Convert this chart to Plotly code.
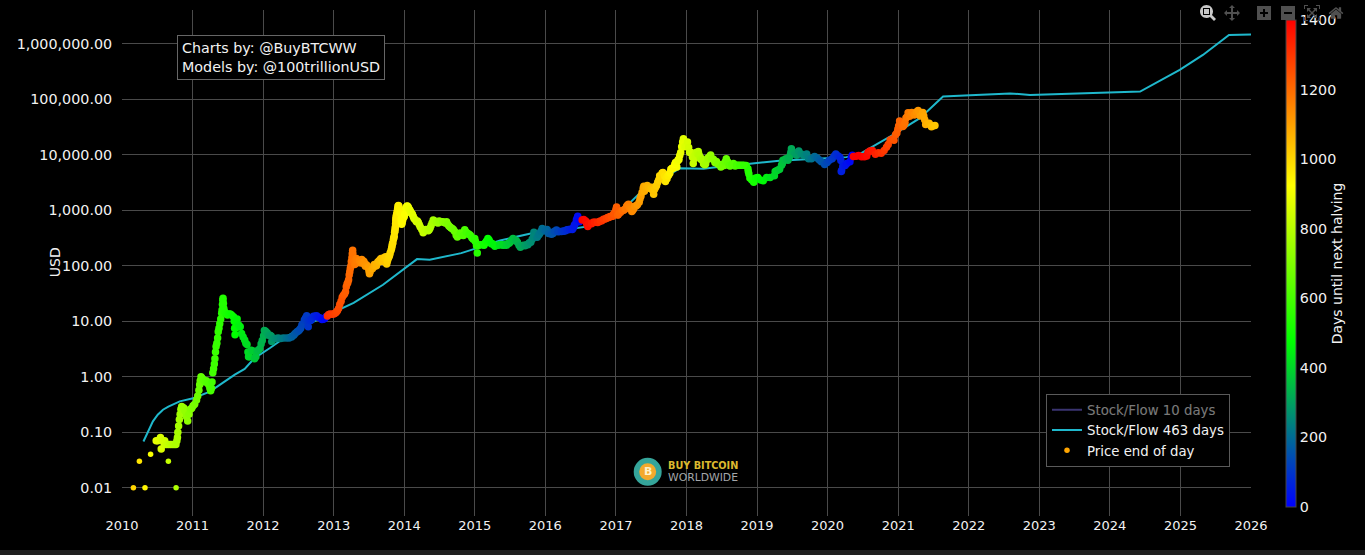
import plotly.graph_objects as go

# Price end of day
price_dates = [
"2010-03-01","2010-04-01","2010-04-30","2010-05-29","2010-06-27","2010-07-05","2010-07-19","2010-07-23","2010-07-30","2010-08-10",
"2010-08-08","2010-08-18","2010-08-28","2010-08-29","2010-09-07","2010-09-17","2010-09-27","2010-10-07","2010-10-08","2010-10-12",
"2010-10-15","2010-10-17","2010-10-21","2010-10-25","2010-10-29","2010-11-02","2010-11-06","2010-11-12","2010-11-18","2010-11-24",
"2010-12-01","2010-12-07","2010-12-14","2010-12-21","2010-12-28","2011-01-04","2011-01-12","2011-01-22","2011-01-28","2011-02-03",
"2011-02-07","2011-02-10","2011-02-14","2011-02-18","2011-02-24","2011-03-02","2011-03-08","2011-03-14","2011-03-20","2011-03-26",
"2011-04-01","2011-04-05","2011-04-09","2011-04-12","2011-04-16","2011-04-20","2011-04-24","2011-04-27","2011-04-30","2011-05-03",
"2011-05-07","2011-05-11","2011-05-14","2011-05-18","2011-05-22","2011-05-27","2011-06-01","2011-06-03","2011-06-05","2011-06-07",
"2011-06-08","2011-06-10","2011-06-12","2011-06-15","2011-06-20","2011-06-26","2011-07-01","2011-07-08","2011-07-15","2011-07-22",
"2011-08-01","2011-08-05","2011-08-07","2011-08-09","2011-08-12","2011-08-14","2011-08-20","2011-08-28","2011-09-05","2011-09-12",
"2011-09-20","2011-09-28","2011-10-04","2011-10-10","2011-10-15","2011-10-18","2011-10-22","2011-11-01","2011-11-10","2011-11-18",
"2011-11-25","2011-12-01","2011-12-08","2011-12-15","2011-12-22","2011-12-28","2012-01-04","2012-01-08","2012-01-14","2012-01-22",
"2012-01-30","2012-02-06","2012-02-12","2012-02-15","2012-02-24","2012-03-04","2012-03-12","2012-03-20","2012-04-01","2012-04-15",
"2012-05-01","2012-05-15","2012-05-28","2012-06-08","2012-06-15","2012-06-25","2012-07-02","2012-07-08","2012-07-14","2012-07-20",
"2012-07-26","2012-08-02","2012-08-08","2012-08-14","2012-08-18","2012-08-22","2012-08-26","2012-09-03","2012-09-10","2012-09-18",
"2012-09-26","2012-10-04","2012-10-12","2012-10-20","2012-11-01","2012-11-08","2012-11-15","2012-11-22","2012-11-27",
"2012-11-29","2012-12-06","2012-12-14","2012-12-24","2013-01-01","2013-01-08","2013-01-14","2013-01-20","2013-01-26","2013-02-01",
"2013-02-08","2013-02-14","2013-02-20","2013-02-26","2013-03-03","2013-03-07","2013-03-11","2013-03-15","2013-03-19","2013-03-22",
"2013-03-25","2013-03-28","2013-03-31","2013-04-02","2013-04-05","2013-04-07","2013-04-09","2013-04-10","2013-04-12","2013-04-16",
"2013-04-22","2013-04-28","2013-05-04","2013-05-10","2013-05-18","2013-05-26","2013-06-03","2013-06-10","2013-06-17","2013-06-24",
"2013-07-01","2013-07-05","2013-07-10","2013-07-17","2013-07-24","2013-07-30","2013-08-06","2013-08-14","2013-08-22","2013-08-30",
"2013-09-07","2013-09-14","2013-09-22","2013-09-30","2013-10-02","2013-10-08","2013-10-14","2013-10-20","2013-10-25","2013-10-30",
"2013-11-03","2013-11-06","2013-11-10","2013-11-12","2013-11-14","2013-11-16","2013-11-18","2013-11-20","2013-11-23","2013-11-27",
"2013-11-30","2013-12-04","2013-12-07","2013-12-10","2013-12-14","2013-12-18","2013-12-21","2013-12-24","2013-12-28","2014-01-01",
"2014-01-05","2014-01-08","2014-01-12","2014-01-16","2014-01-22","2014-01-30","2014-02-05","2014-02-12","2014-02-20","2014-03-05",
"2014-03-15","2014-03-25","2014-04-09","2014-04-18","2014-04-28","2014-05-10","2014-05-20","2014-05-31","2014-06-12","2014-06-25",
"2014-07-10","2014-07-25","2014-08-08","2014-08-20","2014-09-01","2014-09-12","2014-09-27","2014-10-10","2014-10-25","2014-11-10",
"2014-11-25","2014-12-10","2014-12-24","2015-01-05","2015-01-14","2015-01-18","2015-01-28","2015-02-10","2015-02-25","2015-03-10",
"2015-03-22","2015-04-03","2015-04-15","2015-05-01","2015-05-20","2015-06-06","2015-06-20","2015-07-05","2015-07-18","2015-07-28",
"2015-08-10","2015-08-25","2015-09-10","2015-09-25","2015-10-10","2015-10-25","2015-11-03","2015-11-08","2015-11-15","2015-11-25",
"2015-12-05","2015-12-16","2015-12-28","2016-01-10","2016-01-25","2016-02-10","2016-02-28","2016-03-15","2016-04-01","2016-04-15",
"2016-05-01","2016-05-14","2016-05-25","2016-06-03","2016-06-10","2016-06-14","2016-06-17","2016-06-21","2016-06-25","2016-07-02",
"2016-07-10","2016-07-18","2016-07-28","2016-08-03","2016-08-08","2016-08-20","2016-09-05","2016-09-20","2016-10-05","2016-10-20",
"2016-11-05","2016-11-18","2016-12-01","2016-12-15","2016-12-25","2017-01-01","2017-01-04","2017-01-08","2017-01-12","2017-01-25",
"2017-02-10","2017-02-25","2017-03-07","2017-03-15","2017-03-24","2017-04-02","2017-04-15","2017-05-01","2017-05-10","2017-05-22",
"2017-06-01","2017-06-12","2017-06-25","2017-07-05","2017-07-15","2017-07-25","2017-08-05","2017-08-15","2017-08-28","2017-09-05",
"2017-09-14","2017-09-22","2017-10-02","2017-10-12","2017-10-25","2017-11-05","2017-11-12","2017-11-20","2017-11-27","2017-12-02",
"2017-12-07","2017-12-12","2017-12-16","2017-12-22","2017-12-28","2018-01-06","2018-01-12","2018-01-17","2018-01-25","2018-02-01",
"2018-02-05","2018-02-10","2018-02-20","2018-03-03","2018-03-12","2018-03-20","2018-03-30","2018-04-06","2018-04-15","2018-05-01",
"2018-05-06","2018-05-20","2018-06-05","2018-06-20","2018-07-01","2018-07-15","2018-07-26","2018-08-05","2018-08-15","2018-09-01",
"2018-09-10","2018-09-25","2018-10-15","2018-11-06","2018-11-15","2018-11-20","2018-11-25","2018-12-05","2018-12-15","2018-12-25",
"2019-01-05","2019-01-20","2019-02-02","2019-02-20","2019-03-10","2019-04-01","2019-04-05","2019-04-20","2019-05-08","2019-05-15",
"2019-05-30","2019-06-10","2019-06-20","2019-06-25","2019-06-28","2019-07-05","2019-07-15","2019-07-25","2019-08-05","2019-08-18",
"2019-09-01","2019-09-15","2019-09-25","2019-10-10","2019-10-26","2019-11-08","2019-11-20","2019-11-30","2019-12-17","2019-12-30",
"2020-01-10","2020-01-25","2020-02-05","2020-02-13","2020-02-25","2020-03-05","2020-03-10","2020-03-12","2020-03-14","2020-03-20",
"2020-04-01","2020-04-10","2020-04-26","2020-05-03","2020-05-08",
"2020-05-14","2020-05-28","2020-06-10","2020-06-25","2020-07-10","2020-07-22","2020-07-28","2020-08-07","2020-08-20","2020-09-05",
"2020-09-20","2020-10-05","2020-10-20","2020-11-01","2020-11-10","2020-11-20","2020-12-01","2020-12-10","2020-12-18","2020-12-25",
"2020-12-30","2021-01-03","2021-01-08","2021-01-15","2021-01-25","2021-01-30","2021-02-05","2021-02-10","2021-02-15","2021-02-21",
"2021-03-01","2021-03-12","2021-03-25","2021-04-05","2021-04-14","2021-04-25","2021-05-08","2021-05-13","2021-05-18","2021-05-23",
"2021-06-01","2021-06-10","2021-06-22","2021-07-01","2021-07-10",
]
price_values = [
.01,.03,.01,.04,.07,.07,.08,.05,.07,.07,
.06,.06,.06,.03,.06,.06,.06,.06,.01,.07,
.08,.10,.13,.17,.21,.26,.29,.28,.27,.24,
.19,.16,.21,.26,.27,.30,.32,.38,.45,.57,
.72,.85,1.0,.95,.90,.85,.80,.85,.78,.72,
.62,.56,.62,.80,1.18,1.4,1.7,2.1,2.8,3.5,
4.0,5.0,6.5,7.5,9,11,14,16,20,24,
26,21,17,15,14,13.5,13,13.5,13.5,13,
12,10,7.5,5.7,7.5,9.5,11,8.6,8,6,
5.2,4.6,4.0,3.8,2.8,2.3,2.3,3,2.9,2.1,
2.3,2.9,3,3.2,3.9,4.5,5.5,6.8,6.6,6.2,
5.6,5.6,5.4,4.3,4.9,4.9,4.9,5.0,4.9,5.0,
5.0,5.0,5.2,5.6,6.0,6.5,6.7,7.0,7.5,8.6,
9.0,10.5,11.5,12.6,10,8,10.5,10.3,11,12.3,
12.3,12.6,11.8,11.6,10.8,10.9,11.2,12,12.3,
12.5,13.3,13.5,13.4,13.5,14,14.5,15.5,17,20,
23,27,29.5,31,34,42,47,50,56,68,
78,90,100,120,140,165,190,165,130,118,
125,135,115,118,122,130,122,105,105,100,
88,72,85,93,95,105,105,110,120,130,
125,135,130,130,108,130,145,170,190,230,
260,300,340,400,430,500,650,750,850,1000,
1200,1180,850,950,880,560,620,670,740,770,
950,1050,1150,1200,1130,1000,900,850,720,620,
600,500,395,440,440,445,530,670,620,590,
620,610,620,520,480,450,355,370,360,445,
380,350,300,270,170,230,240,240,260,310,
265,250,225,235,240,240,250,270,310,290,
265,215,235,240,260,300,400,370,330,350,
390,470,430,450,400,380,440,415,420,430,
450,455,480,560,670,720,780,700,620,650,
670,680,640,560,510,570,610,610,620,650,
700,740,770,780,900,1000,1150,900,830,920,
1000,1180,1280,1200,950,1050,1200,1400,1800,2500,
2400,2800,2500,2600,1950,2600,3200,4200,4700,4500,
3300,3700,4400,5500,5700,7300,6000,8200,9700,11000,
14000,17000,19500,14000,14500,17000,13500,11000,11000,9000,
7000,8500,11000,11500,9000,8500,6900,6600,8000,9300,
9900,8300,7600,6700,6300,6400,8500,7000,6300,7000,
6300,6500,6500,6400,5600,4500,3800,3500,3200,3800,
3900,3500,3400,3900,3900,4200,5000,5300,6500,8000,
8500,8000,9500,11000,12800,11200,10500,9800,11700,10300,
9700,10300,8500,8500,9300,8800,8100,7500,6700,7300,
8000,8500,9500,10300,9500,9000,7900,5000,5200,6200,
6400,7000,7500,9000,9800,
9300,9400,9700,9200,9200,9500,11000,11700,11900,10200,
10900,10700,11900,13700,15300,18400,19200,18300,23000,24700,
29000,33000,40500,36800,32500,34000,38000,46000,48000,57000,
49500,58000,52000,59000,63000,50000,58000,50000,43000,35000,
36500,37000,32000,33500,33800,
]
days_to_halving = [
1003,972,943,914,884,877,863,859,852,841,
843,833,823,822,813,803,793,783,782,778,
775,773,769,765,761,757,753,747,741,735,
728,722,715,708,701,694,686,676,670,664,
660,657,653,649,643,637,631,625,619,613,
607,603,599,596,592,588,584,581,578,575,
571,567,564,560,556,551,546,544,542,540,
539,537,535,532,527,521,516,509,502,495,
485,481,479,477,474,472,466,458,450,443,
435,427,421,415,410,407,403,393,384,376,
369,363,356,349,342,336,329,325,319,311,
303,296,290,287,278,269,261,253,241,227,
211,197,184,173,166,156,149,143,137,131,
125,118,112,106,102,98,94,86,79,71,
63,55,47,39,27,20,13,6,1,
1318,1311,1303,1293,1285,1278,1272,1266,1260,1254,
1247,1241,1235,1229,1224,1220,1216,1212,1208,1205,
1202,1199,1196,1194,1191,1189,1187,1186,1184,1180,
1174,1168,1162,1156,1148,1140,1132,1125,1118,1111,
1104,1100,1095,1088,1081,1075,1068,1060,1052,1044,
1036,1029,1021,1013,1011,1005,999,993,988,983,
979,976,972,970,968,966,964,962,959,955,
952,948,945,942,938,934,931,928,924,920,
916,913,909,905,899,891,885,878,870,857,
847,837,822,813,803,791,781,770,758,745,
730,715,701,689,677,666,651,638,623,607,
592,577,563,551,542,538,528,515,500,487,
475,463,451,435,416,399,385,370,357,347,
334,319,303,288,273,258,249,244,237,227,
217,206,194,181,166,150,132,116,99,85,
69,56,45,36,29,25,22,18,14,7,
1401,1393,1383,1377,1372,1360,1344,1329,1314,1299,
1283,1270,1257,1243,1233,1226,1223,1219,1215,1202,
1186,1171,1161,1153,1144,1135,1122,1106,1097,1085,
1075,1064,1051,1041,1031,1021,1010,1000,987,979,
970,962,952,942,929,918,911,903,896,891,
886,881,877,871,865,855,849,844,836,830,
826,821,811,800,791,783,773,766,757,741,
736,722,706,691,681,666,655,645,635,618,
609,594,574,552,543,538,533,523,513,503,
491,477,464,446,428,406,402,387,369,362,
347,336,326,321,318,311,301,291,280,267,
253,239,229,214,198,185,173,163,146,133,
122,107,96,88,76,67,62,60,58,52,
40,31,15,8,3,
1452,1438,1425,1410,1395,1383,1377,1367,1354,1338,
1323,1308,1293,1281,1272,1262,1251,1242,1234,1227,
1222,1218,1213,1206,1196,1191,1185,1180,1175,1169,
1161,1150,1137,1126,1117,1106,1093,1088,1083,1078,
1069,1060,1048,1040,1030,
]

# Further readings where the price band is thick or steep
extra_dates = [
"2013-04-19","2013-04-25","2013-05-01","2013-05-14","2013-05-22","2013-06-01","2013-06-07","2013-06-14","2013-06-28","2013-07-03",
"2013-07-08","2013-07-20","2013-08-01","2013-08-10","2013-08-18","2013-08-26","2013-09-03","2013-09-10","2013-09-18","2013-09-26",
"2013-10-05","2013-10-11","2013-10-17","2013-10-28","2013-11-01","2013-11-08","2013-11-15","2013-11-17","2013-11-19","2013-11-21",
"2013-11-25","2013-11-28","2013-12-02","2013-12-05","2013-12-08","2013-12-12","2013-12-16","2013-12-17","2013-12-20",
"2014-01-03","2014-01-10","2014-01-18","2014-01-26","2014-02-02","2014-02-08","2014-02-16","2014-02-25","2014-03-10","2014-03-20",
"2014-04-02","2014-04-14","2014-04-23","2014-05-05","2014-05-15","2014-05-25","2014-06-05","2014-06-18","2014-07-01","2014-07-18",
"2014-08-01","2014-08-14","2014-08-26","2014-09-06","2014-09-18","2014-10-03","2014-10-18","2014-11-03","2014-11-18","2014-12-03",
"2014-12-17","2015-01-01","2015-01-10",
"2015-02-18","2015-03-03","2015-03-16","2015-03-28","2015-04-09","2015-05-10","2015-05-28","2015-06-14","2015-06-28","2015-07-12",
"2015-08-03","2015-08-18","2015-09-02","2015-09-18","2015-10-03","2015-10-18","2015-11-01","2015-11-20","2015-11-30","2015-12-10","2015-12-22",
"2016-01-03","2016-01-18","2016-02-02","2016-02-18","2016-03-07","2016-03-25","2016-04-08","2016-04-22","2016-05-07","2016-05-20","2016-05-30",
"2016-08-14","2016-08-28","2016-09-12","2016-09-28","2016-10-12","2016-10-28","2016-11-12","2016-11-25","2016-12-08","2016-12-20",
"2017-01-02","2017-01-10","2017-01-18","2017-02-02","2017-02-18","2017-03-02","2017-03-11","2017-03-20","2017-03-28","2017-04-08",
"2017-04-22","2017-05-05","2017-05-16","2017-05-25","2017-05-28","2017-06-06","2017-06-18","2017-07-01","2017-07-10","2017-07-20",
"2017-07-30","2017-08-10","2017-08-20","2017-09-01","2017-09-10","2017-09-18","2017-09-28","2017-10-07","2017-10-18","2017-11-01",
"2017-11-08","2017-11-16","2017-11-23",
"2018-02-15","2018-02-26","2018-03-07","2018-03-16","2018-03-25","2018-04-10","2018-04-22","2018-05-13","2018-05-28","2018-06-12",
"2018-06-28","2018-07-08","2018-07-20","2018-08-01","2018-08-10","2018-08-24","2018-09-17","2018-10-05","2018-10-25","2018-11-17",
"2019-04-10","2019-04-28","2019-05-12","2019-05-22","2019-06-04","2019-06-15",
]
extra_values = [
105,110,125,125,112,115,118,98,95,80,
78,88,98,100,118,125,135,120,140,145,
120,140,155,210,250,320,470,570,700,800,
920,1080,1220,1000,900,920,700,620,580,
850,1100,1180,1060,950,880,780,680,640,550,
450,420,450,430,480,590,650,600,640,620,
590,560,500,470,420,330,390,350,400,370,
320,310,230,
235,280,290,250,240,240,235,235,255,290,
285,235,230,230,240,265,330,325,365,420,450,
430,380,370,420,410,415,425,445,450,450,530,
585,575,610,605,640,690,710,740,770,860,
1050,820,890,990,1060,1240,1150,1050,1000,1180,
1260,1600,2100,2700,2200,2650,2600,2450,2300,2400,
2800,3500,4100,4800,4100,3800,4200,4700,5700,6700,
7000,7700,8200,
10000,10500,10000,8300,8000,6900,8800,8500,7300,6800,
6000,6700,7400,7600,6400,6700,6500,6500,6500,5000,
5100,5500,7000,8000,8300,8800,
]
extra_days = [
1177,1171,1165,1152,1144,1134,1128,1121,1107,1102,
1097,1085,1073,1064,1056,1048,1040,1033,1025,1017,
1008,1002,996,985,981,974,967,965,963,961,
957,954,950,947,944,940,936,935,932,
918,911,903,895,888,882,874,865,852,842,
829,817,808,796,786,776,765,752,739,722,
708,695,683,672,660,645,630,614,599,584,
570,555,546,
507,494,481,469,457,426,408,391,377,363,
341,326,311,295,280,265,251,232,222,212,200,
188,173,158,142,124,106,92,78,63,50,40,
1366,1352,1337,1321,1307,1291,1276,1263,1250,1238,
1225,1217,1209,1194,1178,1166,1157,1148,1140,1129,
1115,1102,1091,1082,1079,1070,1058,1045,1036,1026,
1016,1005,995,983,974,966,956,947,936,922,
915,907,900,
816,805,796,787,778,762,750,729,714,699,
683,673,661,649,640,626,602,584,564,541,
397,379,365,355,342,331,
]
assert len(price_dates) == len(price_values) == len(days_to_halving), (len(price_dates), len(price_values), len(days_to_halving))
assert len(extra_dates) == len(extra_values) == len(extra_days), (len(extra_dates), len(extra_values), len(extra_days))

# Lone early readings, drawn as the small dots they are in the picture
lone_dates = ["2010-03-01", "2010-04-01", "2010-04-30", "2010-05-29", "2010-08-29", "2010-10-08"]

# Stock/Flow 463 days
sf463_dates = ["2010-04-22","2010-05-26","2010-06-10","2010-07-05","2010-08-01","2010-08-29","2010-10-27","2011-01-04","2011-04-01","2011-06-10","2011-08-08","2011-09-28",
"2011-11-18","2012-02-06","2012-05-01","2012-08-14","2012-11-25","2013-04-14","2013-09-13","2014-03-08","2014-05-13","2014-08-25",
"2014-10-23","2015-01-12","2015-05-12","2015-10-12","2015-12-20","2016-06-10","2016-08-04","2016-12-03","2017-02-25","2017-05-05",
"2017-11-28","2018-03-30","2018-07-26","2018-11-25","2019-04-26","2019-09-13","2020-04-08","2020-06-17","2020-08-25","2020-12-05",
"2021-04-23","2021-08-21","2022-01-08","2022-08-03","2022-11-14","2024-06-06","2024-12-28","2025-04-27","2025-09-09","2026-01-01"]
sf463_values = [.068,.127,.157,.207,.254,.29,.36,.41,.54,.79,1.09,1.38,
2.17,3.3,5.3,8.65,12.6,21.4,45.5,132,128,151,
169,208,286,378,415,477,510,830,1200,2040,
5750,5600,6300,6890,7800,8360,9080,10400,14100,22900,
45800,112000,119000,128000,120000,138000,339000,631000,1450000,1470000]

# Stock/Flow 10 days (hidden in the reference: legend entry only)
sf10_dates = ["2011-01-01","2013-01-01","2016-01-01","2020-01-01"]
sf10_values = [.4,15,400,9000]

y_tick_values = [.01,.1,1,10,100,1000,10000,100000,1000000]
colorbar_ticks = [0,200,400,600,800,1000,1200,1400]

FONT = "DejaVu Sans"
TXT = "#f2f2f2"
W, H = 1365, 550
L, R, T, B = 122, 114, 10, 33.5
PH = H - T - B
PW = W - L - R
px = lambda v: (v - L) / PW
py = lambda v: (H - B - v) / PH

all_dates = price_dates + extra_dates
all_values = price_values + extra_values
all_days = days_to_halving + extra_days
marker_sizes = [5.5 if d in lone_dates else 7.5 for d in all_dates]

fig = go.Figure()
fig.add_trace(go.Scatter(x=sf10_dates, y=sf10_values, mode="lines", name="Stock/Flow 10 days",
                         visible="legendonly", line=dict(color="#7468e0", width=2)))
fig.add_trace(go.Scatter(x=sf463_dates, y=sf463_values, mode="lines", name="Stock/Flow 463 days",
                         line=dict(color="#1fb8cc", width=2)))
# Legend key only: the reference shows an orange dot for the price series
fig.add_trace(go.Scatter(x=[None], y=[None], mode="markers", name="Price end of day",
                         marker=dict(size=5.5, color="#ffa500")))
fig.add_trace(go.Scatter(x=all_dates, y=all_values, mode="markers", name="Price end of day", showlegend=False,
    marker=dict(size=marker_sizes, opacity=1, line=dict(width=0), color=all_days, cmin=0, cmax=1400,
        colorscale=[[0, "rgb(0,0,255)"], [0.34, "rgb(0,255,0)"], [0.66, "rgb(255,255,0)"], [1, "rgb(255,0,0)"]],
        colorbar=dict(title=dict(text="Days until next halving", side="right", font=dict(family=FONT, size=14, color=TXT)),
            tickvals=colorbar_ticks, tickfont=dict(family=FONT, size=14.3, color=TXT),
            thickness=10, thicknessmode="pixels", lenmode="pixels", len=487,
            x=px(1285.5), xanchor="left", y=py(20), yanchor="top", xpad=0, ypad=0,
            outlinecolor="#444444", outlinewidth=1, borderwidth=0, ticks="", bgcolor="rgba(0,0,0,0)"))))

fig.update_layout(
    width=W, height=H, autosize=False,
    margin=dict(l=L, r=R, t=T, b=B, pad=0),
    paper_bgcolor="#000000", plot_bgcolor="#000000",
    font=dict(family=FONT, size=13, color=TXT),
    hovermode="closest", dragmode="zoom",
    xaxis=dict(type="date", range=["2010-01-01", "2026-01-01"], dtick="M12", tick0="2010-01-01", tickformat="%Y",
               showgrid=True, gridcolor="#4a4a4a", gridwidth=1, zeroline=False, showline=False, ticks="",
               tickfont=dict(family=FONT, size=13, color=TXT)),
    yaxis=dict(type="log", range=[-2.51, 6.61], tickvals=y_tick_values, tickformat=",.2f",
               showgrid=True, gridcolor="#4a4a4a", gridwidth=1, zeroline=False, showline=False,
               ticks="outside", ticklen=6, tickcolor="rgba(0,0,0,0)",
               tickfont=dict(family=FONT, size=14.3, color=TXT)),
    legend=dict(x=px(1046), y=py(394), xanchor="left", yanchor="top", bgcolor="#000000",
                bordercolor="#5a5a5a", borderwidth=1, font=dict(family=FONT, size=13.3, color=TXT), traceorder="normal"),
    modebar=dict(bgcolor="rgba(0,0,0,0)", color="#505050", activecolor="#c8c8c8"),
    shapes=[
        dict(type="circle", xref="paper", yref="paper", x0=px(633.7), x1=px(661.7), y0=py(486.3), y1=py(458.3),
             fillcolor="#35a59a", line=dict(width=0), layer="above"),
        dict(type="circle", xref="paper", yref="paper", x0=px(639.2), x1=px(656.2), y0=py(480.8), y1=py(463.8),
             fillcolor="#f4a92c", line=dict(width=0), layer="above"),
    ],
    annotations=[
        dict(xref="paper", yref="paper", x=px(54.5), y=py(263), xanchor="center", yanchor="middle", showarrow=False,
             text="USD", textangle=-90, font=dict(family=FONT, size=14, color=TXT)),
        dict(xref="paper", yref="paper", x=px(177), y=py(35), xanchor="left", yanchor="top", align="left", showarrow=False,
             text="Charts by: @BuyBTCWW<br>Models by: @100trillionUSD", bgcolor="#000000", bordercolor="#666666", borderwidth=1,
             borderpad=4, font=dict(family=FONT, size=14.3, color=TXT)),
        dict(xref="paper", yref="paper", x=px(647.7), y=py(472.3), xanchor="center", yanchor="middle", showarrow=False,
             text="<b>B</b>", font=dict(family=FONT, size=11, color="#fff2c8")),
        dict(xref="paper", yref="paper", x=px(666), y=py(466), xanchor="left", yanchor="middle", showarrow=False,
             text="<b>BUY BITCOIN</b>", font=dict(family=FONT, size=9.7, color="#dcb92e")),
        dict(xref="paper", yref="paper", x=px(666), y=py(477.5), xanchor="left", yanchor="middle", showarrow=False,
             text="WORLDWIDE", font=dict(family=FONT, size=10.8, color="#a4a7aa")),
    ],
)

fig.write_html("out.html",
    config=dict(displayModeBar=True, displaylogo=False,
                modeBarButtonsToRemove=["toImage", "select2d", "lasso2d"]),
    post_script="document.body.style.margin='0';document.body.style.background='#1f1f1f';document.documentElement.style.overflow='hidden';"
                "var s=document.createElement('style');s.textContent='.js-plotly-plot .plotly .modebar{right:9px !important;}';document.head.appendChild(s);")
